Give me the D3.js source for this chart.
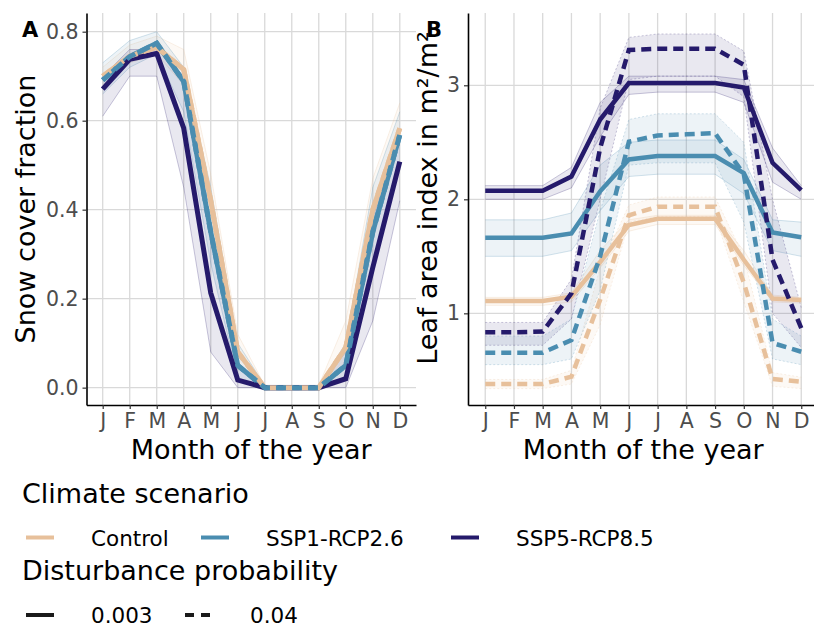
<html>
<head>
<script src="https://cdnjs.cloudflare.com/ajax/libs/d3/7.8.5/d3.min.js"></script>
<style>
  body { margin: 0; background: #fff; }
  text { font-family: 'DejaVu Sans', sans-serif; }
  .tick text { fill: #4d4d4d; font-size: 20.5px; }
  .grid line { stroke: #d9d9d9; stroke-width: 1.3; }
</style>
</head>
<body>
<svg width="814" height="628"></svg>
<script>
// months on the x axis
const months = ['J','F','M','A','M','J','J','A','S','O','N','D'];
const scenarios = ['Control', 'SSP1-RCP2.6', 'SSP5-RCP8.5'];
const probs = ['0.003', '0.04'];
const colors = ['#E7C09B', '#4A8DB0', '#251A6B'];

// A: snow cover fraction (mean, low and high of the ensemble)
const snowControl = [0.70, 0.745, 0.765, 0.715, 0.42, 0.08, 0, 0, 0, 0.09, 0.40, 0.583];
const snowSSP1    = [0.691, 0.744, 0.774, 0.688, 0.35, 0.05, 0, 0, 0, 0.05, 0.35, 0.568];
const snowSSP5    = [0.671, 0.738, 0.751, 0.583, 0.213, 0.017, 0, 0, 0, 0.02, 0.27, 0.508];
const snowControlLo = [0.68, 0.73, 0.75, 0.68, 0.35, 0.05, 0, 0, 0, 0.05, 0.35, 0.55];
const snowControlHi = [0.72, 0.77, 0.79, 0.76, 0.48, 0.12, 0.005, 0.005, 0.005, 0.15, 0.47, 0.64];
const snowSSP1Lo = [0.66, 0.72, 0.75, 0.62, 0.28, 0.02, 0, 0, 0, 0.02, 0.28, 0.50];
const snowSSP1Hi = [0.73, 0.78, 0.80, 0.72, 0.45, 0.10, 0.005, 0.005, 0.005, 0.10, 0.45, 0.62];
const snowSSP5Lo = [0.61, 0.70, 0.70, 0.45, 0.08, 0, 0, 0, 0, 0, 0.15, 0.42];
const snowSSP5Hi = [0.70, 0.76, 0.76, 0.70, 0.33, 0.05, 0.005, 0.005, 0.005, 0.08, 0.38, 0.58];

// B: leaf area index, disturbance 0.003 (solid) and 0.04 (dashed)
const laiControl   = [1.108, 1.108, 1.108, 1.146, 1.45, 1.775, 1.83, 1.83, 1.83, 1.47, 1.13, 1.117];
const laiSSP1      = [1.663, 1.663, 1.663, 1.70, 2.07, 2.35, 2.38, 2.38, 2.38, 2.23, 1.71, 1.667];
const laiSSP5      = [2.075, 2.075, 2.075, 2.20, 2.70, 3.02, 3.02, 3.02, 3.02, 2.98, 2.32, 2.08];
const laiControlD  = [0.38, 0.38, 0.38, 0.444, 1.12, 1.86, 1.935, 1.935, 1.935, 1.27, 0.424, 0.40];
const laiSSP1D     = [0.655, 0.655, 0.655, 0.766, 1.50, 2.505, 2.56, 2.57, 2.58, 2.22, 0.74, 0.663];
const laiSSP5D     = [0.833, 0.833, 0.84, 1.175, 2.45, 3.31, 3.32, 3.32, 3.32, 3.18, 1.47, 0.87];
const laiControlLo  = [1.07, 1.07, 1.07, 1.10, 1.40, 1.72, 1.78, 1.78, 1.78, 1.42, 1.10, 1.09];
const laiControlHi  = [1.14, 1.14, 1.14, 1.18, 1.55, 1.82, 1.86, 1.86, 1.86, 1.55, 1.16, 1.14];
const laiSSP1Lo     = [1.50, 1.50, 1.50, 1.55, 1.90, 2.20, 2.22, 2.22, 2.22, 2.05, 1.55, 1.50];
const laiSSP1Hi     = [1.82, 1.82, 1.82, 1.88, 2.30, 2.50, 2.52, 2.52, 2.52, 2.35, 1.82, 1.80];
const laiSSP5Lo     = [2.00, 2.00, 2.00, 2.10, 2.55, 2.92, 2.94, 2.94, 2.94, 2.85, 2.15, 2.00];
const laiSSP5Hi     = [2.12, 2.12, 2.12, 2.28, 2.85, 3.08, 3.08, 3.08, 3.08, 3.05, 2.45, 2.12];
const laiControlDLo = [0.34, 0.34, 0.34, 0.38, 0.90, 1.80, 1.85, 1.85, 1.85, 1.10, 0.36, 0.34];
const laiControlDHi = [0.42, 0.42, 0.42, 0.50, 1.40, 1.95, 2.02, 2.02, 2.02, 1.50, 0.48, 0.44];
const laiSSP1DLo    = [0.55, 0.55, 0.55, 0.60, 1.20, 2.30, 2.32, 2.32, 2.32, 1.80, 0.60, 0.55];
const laiSSP1DHi    = [0.80, 0.80, 0.80, 0.95, 1.90, 2.70, 2.75, 2.75, 2.75, 2.50, 0.95, 0.80];
const laiSSP5DLo    = [0.72, 0.72, 0.72, 0.95, 2.00, 3.05, 3.08, 3.08, 3.08, 2.90, 1.00, 0.70];
const laiSSP5DHi    = [0.92, 0.92, 0.92, 1.30, 2.80, 3.42, 3.45, 3.45, 3.45, 3.30, 2.00, 1.05];

const snowTicks = [0, 0.2, 0.4, 0.6, 0.8];
const laiTicks = [1, 2, 3];

const svg = d3.select('svg');

function panel(opt) {
  const x = d3.scaleLinear().domain([-0.6, 11.6]).range([opt.left, opt.right]);
  const y = d3.scaleLinear().domain(opt.ydom).range([405, 13]);
  const g = svg.append('g');

  // grid
  const grid = g.append('g').attr('class', 'grid');
  grid.selectAll('.gx').data(d3.range(12)).enter().append('line')
    .attr('x1', d => x(d)).attr('x2', d => x(d)).attr('y1', 13).attr('y2', 405);
  grid.selectAll('.gy').data(opt.ticks).enter().append('line')
    .attr('x1', opt.left).attr('x2', opt.right).attr('y1', d => y(d)).attr('y2', d => y(d));

  const line = d3.line().x((d, i) => x(i)).y(d => y(d));
  const area = d3.area().x((d, i) => x(i)).y0(d => y(d[0])).y1(d => y(d[1]));

  // ensemble spread
  opt.bands.forEach(b => {
    const pairs = b.lo.map((v, i) => [v, b.hi[i]]);
    g.append('path').datum(pairs).attr('d', area)
      .attr('fill', colors[b.c]).attr('opacity', 0.1);
    [b.lo, b.hi].forEach(arr => {
      g.append('path').datum(arr).attr('d', line)
        .attr('fill', 'none').attr('stroke', colors[b.c])
        .attr('stroke-width', 0.7).attr('opacity', 0.35)
        .attr('stroke-dasharray', b.dash ? '2,2' : null);
    });
  });

  // mean lines
  opt.series.forEach(s => {
    g.append('path').datum(s.v).attr('d', line)
      .attr('fill', 'none').attr('stroke', colors[s.c])
      .attr('stroke-width', opt.lw)
      .attr('stroke-dasharray', s.dash ? '10,6' : null);
  });

  // axes
  const ya = g.append('g').attr('transform', `translate(${opt.left},0)`)
    .call(d3.axisLeft(y).tickValues(opt.ticks).tickFormat(opt.fmt).tickSize(4).tickSizeOuter(0).tickPadding(4));
  const xa = g.append('g').attr('transform', 'translate(0,405)')
    .call(d3.axisBottom(x).tickValues(d3.range(12)).tickFormat(i => months[i]).tickSize(4).tickSizeOuter(0).tickPadding(4));
  [ya, xa].forEach(a => {
    a.select('.domain').attr('stroke', '#000').attr('stroke-width', 1.6);
    a.selectAll('.tick line').attr('stroke', '#333').attr('stroke-width', 1.2);
    a.selectAll('.tick text').attr('font-family', 'DejaVu Sans');
  });

  g.append('text').attr('x', (opt.left + opt.right) / 2).attr('y', 459)
    .attr('text-anchor', 'middle').attr('font-size', 27).text('Month of the year');
  g.append('text').attr('transform', `translate(${opt.titleX},${opt.titleY}) rotate(-90)`)
    .attr('text-anchor', 'middle').attr('font-size', 27).text(opt.ytitle);
  g.append('text').attr('x', opt.letterX).attr('y', 37)
    .attr('font-size', 21).attr('font-weight', 'bold').text(opt.letter);
}

panel({
  left: 86.5, right: 416, ydom: [-0.039, 0.842], ticks: snowTicks, lw: 5,
  fmt: d3.format('.1f'), ytitle: 'Snow cover fraction', titleX: 35, titleY: 209,
  letter: 'A', letterX: 22,
  bands: [
    {lo: snowControlLo, hi: snowControlHi, c: 0},
    {lo: snowSSP1Lo, hi: snowSSP1Hi, c: 1},
    {lo: snowSSP5Lo, hi: snowSSP5Hi, c: 2}
  ],
  series: [
    {v: snowControl, c: 0}, {v: snowSSP1, c: 1}, {v: snowSSP5, c: 2},
    {v: snowControl, c: 0, dash: true}, {v: snowSSP1, c: 1, dash: true}
  ]
});

panel({
  left: 468, right: 818.5, ydom: [0.196, 3.634], ticks: laiTicks, lw: 4.5,
  fmt: d3.format('d'), ytitle: 'Leaf area index in m²/m²', titleX: 437, titleY: 198,
  letter: 'B', letterX: 426,
  bands: [
    {lo: laiControlLo, hi: laiControlHi, c: 0},
    {lo: laiControlDLo, hi: laiControlDHi, c: 0, dash: true},
    {lo: laiSSP1Lo, hi: laiSSP1Hi, c: 1},
    {lo: laiSSP1DLo, hi: laiSSP1DHi, c: 1, dash: true},
    {lo: laiSSP5Lo, hi: laiSSP5Hi, c: 2},
    {lo: laiSSP5DLo, hi: laiSSP5DHi, c: 2, dash: true}
  ],
  series: [
    {v: laiControl, c: 0}, {v: laiControlD, c: 0, dash: true},
    {v: laiSSP1, c: 1}, {v: laiSSP1D, c: 1, dash: true},
    {v: laiSSP5, c: 2}, {v: laiSSP5D, c: 2, dash: true}
  ]
});

// legend
const leg = svg.append('g');
leg.append('text').attr('x', 22).attr('y', 503).attr('font-size', 27).text('Climate scenario');
const keyX = [26, 201, 451];
const labX = [91, 266, 516];
scenarios.forEach((s, i) => {
  leg.append('line').attr('x1', keyX[i]).attr('x2', keyX[i] + 28).attr('y1', 537.5).attr('y2', 537.5)
    .attr('stroke', colors[i]).attr('stroke-width', 4);
  leg.append('text').attr('x', labX[i]).attr('y', 545.5).attr('font-size', 21.5).text(s);
});
leg.append('text').attr('x', 22).attr('y', 580).attr('font-size', 27).text('Disturbance probability');
const pKeyX = [26, 185];
const pLabX = [91, 250];
probs.forEach((p, i) => {
  leg.append('line').attr('x1', pKeyX[i]).attr('x2', pKeyX[i] + (i ? 25 : 28)).attr('y1', 615).attr('y2', 615)
    .attr('stroke', '#1a1a1a').attr('stroke-width', 4)
    .attr('stroke-dasharray', i ? '9,7' : null);
  leg.append('text').attr('x', pLabX[i]).attr('y', 623).attr('font-size', 21.5).text(p);
});
</script>
</body>
</html>
